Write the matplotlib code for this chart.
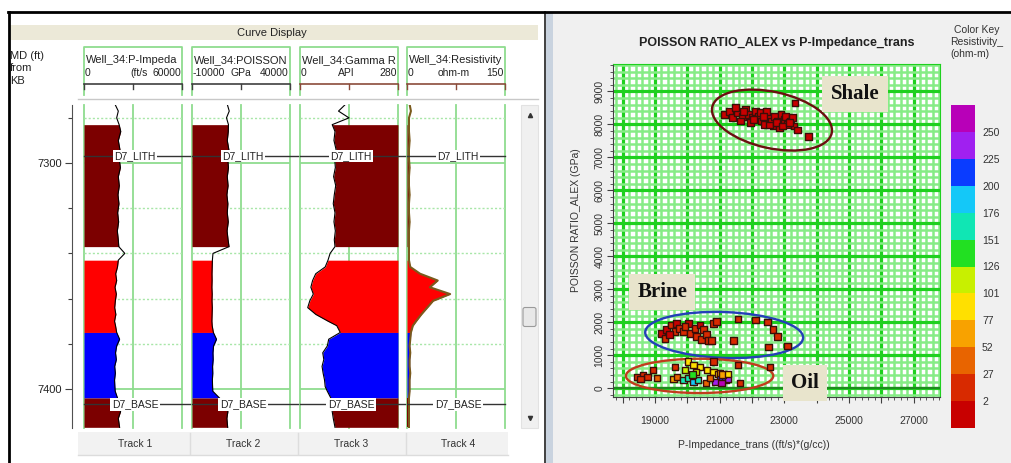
import numpy as np
import matplotlib
matplotlib.use("Agg")
import matplotlib.pyplot as plt
from matplotlib.patches import Rectangle, Ellipse, FancyBboxPatch
from matplotlib.colors import ListedColormap, BoundaryNorm
from matplotlib.cm import ScalarMappable
from matplotlib.ticker import MultipleLocator, FixedLocator, FuncFormatter
from matplotlib.transforms import blended_transform_factory

plt.rcParams['font.family'] = ['Liberation Sans', 'DejaVu Sans']

W, H = 1011, 463

# ---------------- well log curves ----------------
depth_ft = [7274, 7277, 7280, 7283, 7286, 7290, 7294, 7298, 7302, 7306,
            7310, 7314, 7318, 7322, 7326, 7330, 7334, 7337, 7340, 7343,
            7346, 7349, 7352, 7355, 7358, 7361, 7364, 7367, 7370, 7372,
            7375, 7378, 7381, 7384, 7387, 7390, 7393, 7396, 7399, 7401,
            7404, 7407, 7410, 7413, 7417]

p_impedance = [19000, 21000, 20000, 21500, 22500, 21000, 22000, 21500, 22300, 21000,
               21600, 20800, 21400, 20600, 21200, 20400, 21000, 21300, 25000, 21000,
               20500, 19400, 20000, 19000, 19800, 19200, 18800, 19500, 18700, 19300,
               20000, 21800, 20000, 19300, 19800, 18800, 19200, 18700, 18900, 19100,
               20500, 21800, 22400, 21000, 21800]

poisson = [8000, 9000, 7600, 8600, 8500, 8000, 8800, 8200, 8600, 8000,
           8400, 7800, 8300, 8000, 8500, 7900, 8400, 8900, 700, 400,
           300, 200, 250, 150, 300, 200, 350, 250, 150, 300,
           900, 2500, 1000, 700, 800, 500, 600, 400, 500, 600,
           4000, 7500, 8300, 7800, 8200]

gamma_ray = [130, 110, 140, 92, 100, 97, 103, 99, 101, 96,
             102, 98, 95, 100, 97, 101, 98, 100, 86, 80,
             72, 45, 36, 31, 38, 28, 22, 45, 80, 105,
             115, 82, 78, 65, 68, 63, 66, 70, 72, 78,
             88, 90, 92, 95, 100]

resistivity = [4, 6, 3, 3, 3, 4, 3, 3, 4, 3,
               3, 4, 3, 3, 4, 3, 3, 3, 3, 3,
               5, 20, 47, 35, 66, 40, 31, 22, 14, 9,
               6, 5, 4, 5, 4, 4, 5, 4, 4, 4,
               3, 3, 3, 3, 3]

track_titles = ["Well_34:P-Impeda", "Well_34:POISSON", "Well_34:Gamma R", "Well_34:Resistivity"]
track_units = ["(ft/s", "GPa", "API", "ohm-m"]
track_min = [0, -10000, 0, 0]
track_max = [60000, 40000, 280, 150]
track_names = ["Track 1", "Track 2", "Track 3", "Track 4"]

zone_tops = [7283, 7343, 7375, 7404]
zone_bases = [7337, 7375, 7404, 7417]
zone_colors = ['#7c0000', '#ff0000', '#0000ff', '#7c0000']

marker_names = ["D7_LITH", "D7_BASE"]
marker_depths = [7296.9, 7406.8]

# ---------------- crossplot ----------------
shale_x = [21150, 21300, 21400, 21550, 21500, 21700, 21800, 21650, 21900, 22000,
           22100, 21950, 22200, 22300, 22250, 22400, 22500, 22450, 22600, 22700,
           22650, 22800, 22900, 22850, 23000, 23100, 23050, 23200, 23300, 23250,
           21750, 22050, 22350, 22550, 22750, 22950, 23150, 23330, 23400, 23740]
shale_y = [8300, 8400, 8200, 8350, 8500, 8250, 8450, 8100, 8300, 8200,
           8400, 8050, 8250, 8100, 8350, 8000, 8200, 8400, 8100, 8250,
           7950, 8100, 8300, 7900, 8150, 8000, 8250, 8100, 7950, 8200,
           8380, 8150, 8250, 7980, 8050, 7950, 8050, 8650, 7830, 7620]
shale_res = [1] * len(shale_x)

brine_x = [19210, 19310, 19360, 19520, 19620, 19670, 19770, 19880, 20030, 20080,
           20240, 20290, 20390, 20500, 20450, 20600, 20650, 20800, 20910, 20760,
           19460, 19930, 21570, 22100, 22470, 22650, 22780, 21420, 22500, 23090]
brine_y = [1670, 1520, 1770, 1920, 1720, 1970, 1820, 1720, 1970, 1670,
           1820, 1560, 1920, 1770, 1490, 1620, 1460, 1970, 2020, 1440,
           1620, 1870, 2100, 2070, 2010, 1770, 1560, 1460, 1250, 1280]
brine_res = [1, 10, 1, 12, 8, 1, 15, 10, 1, 8, 12, 10, 1, 14, 8,
             10, 12, 5, 8, 10, 1, 9, 10, 12, 8, 6, 10, 12, 8, 10]

oil_x = [18470, 18630, 18780, 18940, 19060, 18540,
         19620, 20800, 21570, 21630, 22560,
         19560, 19680,
         20020, 20180, 20390, 20610, 20800, 20950, 20270, 19930,
         19870, 20020, 20180, 20330, 20150,
         21010, 21170, 21260, 20860, 21070,
         21010, 21100, 20580, 20700, 21260]
oil_y = [340, 400, 340, 555, 310, 280,
         645, 800, 705, 160, 645,
         280, 340,
         800, 705, 645, 555, 495, 435, 495, 555,
         250, 310, 190, 250, 405,
         310, 250, 280, 190, 160,
         465, 405, 160, 310, 435]
oil_res = [10, 8, 12, 6, 35, 10,
           8, 5, 6, 10, 8,
           60, 45,
           90, 95, 88, 92, 85, 98, 105, 110,
           160, 165, 185, 155, 140,
           210, 215, 235, 245, 260,
           70, 55, 45, 35, 80]

res_bounds = [-23, 2, 27, 52, 77, 101, 126, 151, 176, 200, 225, 250, 275]
res_ticks = [2, 27, 52, 77, 101, 126, 151, 176, 200, 225, 250]
res_colors = ['#c80000', '#d82a00', '#e86400', '#f8a200', '#ffe000', '#c8f000',
              '#22e022', '#10e6b4', '#14c8f8', '#0a3cff', '#a020f0', '#b800b8']

group_names = ['Shale', 'Brine', 'Oil']
ellipse_cx = [22620, 21140, 20380]
ellipse_cy = [8130, 1615, 375]
ellipse_w = [3780, 4890, 4560]
ellipse_h = [1710, 1390, 1040]
ellipse_angle = [-12, -2, 0]
ellipse_colors = ['#6b1010', '#2440b8', '#c03c1c']
label_x = [25190, 19220, 23640]
label_y = [8920, 2920, 160]


def box(x0, y0, x1, y1):
    return [x0 / W, 1 - y1 / H, (x1 - x0) / W, (y1 - y0) / H]


fig = plt.figure(figsize=(W / 100, H / 100), dpi=100)
fig.patch.set_facecolor('white')

# window chrome drawn in pixel space
bg = fig.add_axes([0, 0, 1, 1])
bg.set_xlim(0, W)
bg.set_ylim(H, 0)
bg.axis('off')

bg.add_patch(Rectangle((553, 13), W - 553, H - 13, fc='#f0f0f0', ec='none'))
bg.add_patch(Rectangle((546, 13), 7, H - 13, fc='#c9d3df', ec='none'))
bg.plot([544.5, 544.5], [12, H], color='#202020', lw=1.2)
bg.plot([8, W], [12, 12], color='black', lw=2)
bg.plot([8.5, 8.5], [12, H], color='black', lw=2)

bg.add_patch(Rectangle((10, 25), 528, 15, fc='#ece9d8', ec='none'))
bg.text(272, 32.5, "Curve Display", ha='center', va='center', fontsize=8, color='#222222')
bg.text(10, 51, "MD (ft)\nfrom\nKB", ha='left', va='top', fontsize=8, color='#222222',
        linespacing=1.3)
bg.plot([78, 538], [99, 99], color='#c8c8c8', lw=1)

# bottom tab strip
bg.add_patch(Rectangle((78, 432), 430, 23, fc='#f2f2f2', ec='none'))
bg.plot([78, 508], [455, 455], color='#dcdcdc', lw=1)

# scrollbar
bg.add_patch(Rectangle((521, 105), 17, 323, fc='#f0f0f0', ec='#e2e2e2', lw=0.8))
bg.add_patch(FancyBboxPatch((523.5, 308), 12, 18, boxstyle='round,pad=0.5,rounding_size=2',
                            fc='#e8e8e8', ec='#9a9a9a', lw=0.8))
bg.plot([529.5], [115], marker='^', ms=3, color='#333333')
bg.plot([529.5], [418], marker='v', ms=3, color='#333333')

grid_green = '#8fdc8f'
grid_green_light = '#a8e6a8'
track_left = [84, 192, 300, 407]
track_w = 98
gap = 10
log_top, log_bot = 105, 428
depth_top, depth_base = 7274.3, 7417.3
depth = np.array(depth_ft, float)
curves = [p_impedance, poisson, gamma_ray, resistivity]
curve_colors = ['black', 'black', 'black', '#7a5a1c']
curve_widths = [0.8, 0.8, 0.8, 1.5]
scale_colors = ['#404040', '#404040', '#8b4b3b', '#8b4b3b']
unit_dx = [6, 0, -3, -2]
fill_from_right = [False, False, True, False]


def fmt_scale(v):
    return f"{v:g}" if abs(v) < 1e5 else str(int(v))


# depth scale
ax_d = fig.add_axes(box(72, log_top, 73, log_bot))
ax_d.set_facecolor('none')
ax_d.set_ylim(depth_base, depth_top)
ax_d.set_xticks([])
for s in ['top', 'right', 'bottom']:
    ax_d.spines[s].set_visible(False)
ax_d.spines['left'].set_color('#505050')
ax_d.yaxis.set_major_locator(FixedLocator([7300, 7400]))
ax_d.yaxis.set_minor_locator(MultipleLocator(20))
ax_d.tick_params(axis='y', which='major', length=5, width=0.8, color='#404040',
                 labelsize=8, labelcolor='#222222', pad=2)
ax_d.tick_params(axis='y', which='minor', length=3, width=0.8, color='#404040')

for i, vals in enumerate(curves):
    l = track_left[i]
    r = l + track_w
    lo, hi = track_min[i], track_max[i]
    ax = fig.add_axes(box(l, log_top, r, log_bot))
    ax.set_xlim(lo, hi)
    ax.set_ylim(depth_base, depth_top)
    ax.set_xticks([])
    ax.set_yticks([])
    for s in ax.spines.values():
        s.set_visible(False)

    for v in (lo, (lo + hi) / 2, hi):
        ax.axvline(v, color=grid_green, lw=1.3, zorder=1, clip_on=False)
    for d in (7300, 7400):
        ax.axhline(d, color=grid_green, lw=1.3, zorder=1)
    for d in (7280, 7320, 7340, 7360, 7380):
        ax.axhline(d, color=grid_green_light, lw=1.0, ls=(0, (1.5, 1.5)), zorder=1)

    v = np.array(vals, float)
    for top, base, c in zip(zone_tops, zone_bases, zone_colors):
        m = (depth >= top) & (depth <= base)
        if fill_from_right[i]:
            ax.fill_betweenx(depth, v, hi, where=m, color=c, lw=0, zorder=2)
        else:
            ax.fill_betweenx(depth, lo, v, where=m, color=c, lw=0, zorder=2)
    ax.plot(v, depth, color=curve_colors[i], lw=curve_widths[i], zorder=3)

    tr = blended_transform_factory(ax.transAxes, ax.transData)
    x_end = 1 + gap / track_w if i < 3 else 1
    for name, md in zip(marker_names, marker_depths):
        ax.plot([0, x_end], [md, md], transform=tr, color='#333333', lw=1,
                zorder=5, clip_on=False)
        ax.text(0.52, md, name, transform=tr, ha='center', va='center', fontsize=7.5,
                color='#222222', zorder=6,
                bbox=dict(fc='white', ec='none', pad=1))

    # track header
    bg.plot([l, l, r, r], [95, 47, 47, 95], color=grid_green, lw=1.3)
    bg.text(l + 2, 60, track_titles[i], ha='left', va='center', fontsize=8, color='#222222')
    bg.text(l + 1, 73, fmt_scale(lo), ha='left', va='center', fontsize=7.5, color='#222222')
    bg.text(l + track_w / 2 + unit_dx[i], 73, track_units[i], ha='center', va='center',
            fontsize=7.5, color='#222222')
    bg.text(r - 1, 73, fmt_scale(hi), ha='right', va='center', fontsize=7.5, color='#222222')
    bg.plot([l, r], [84, 84], color=scale_colors[i], lw=1.2)
    for xt in (l, l + track_w / 2, r):
        bg.plot([xt, xt], [84, 89], color=scale_colors[i], lw=1)

    bg.text(l + track_w / 2 + 2, 444, track_names[i], ha='center', va='center',
            fontsize=7.5, color='#333333')
    if i < 3:
        bg.plot([r + gap / 2 + 3, r + gap / 2 + 3], [433, 454], color='#dddddd', lw=1)

# ---------------- crossplot panel ----------------
cmap = ListedColormap(res_colors)
norm = BoundaryNorm(res_bounds, cmap.N)

ax = fig.add_axes(box(613, 64, 940, 397))
ax.set_facecolor('white')
ax.set_xlim(17700, 27820)
ax.set_ylim(-265, 9830)
ax.xaxis.set_major_locator(MultipleLocator(1000))
ax.xaxis.set_minor_locator(MultipleLocator(200))
ax.yaxis.set_major_locator(MultipleLocator(1000))
ax.yaxis.set_minor_locator(MultipleLocator(200))
ax.xaxis.set_major_formatter(FuncFormatter(
    lambda v, p: f"{int(round(v))}" if int(round(v)) % 2000 == 1000 else ""))
ax.yaxis.set_major_formatter(FuncFormatter(lambda v, p: f"{int(round(v))}"))
ax.set_axisbelow(True)
ax.grid(which='minor', color='#86ec86', lw=1.8)
ax.grid(which='major', color='#1fd01f', lw=2.3)
ax.axhline(0, color='#208a20', lw=1.6, zorder=1.5)

for s in ['top', 'right']:
    ax.spines[s].set_color('#1fd01f')
for s in ['left', 'bottom']:
    ax.spines[s].set_color('#404040')
ax.tick_params(which='major', direction='out', length=4, width=0.8, color='#404040',
               labelsize=7.5, labelcolor='#333333', pad=2)
ax.tick_params(which='minor', direction='out', length=2, width=0.6, color='#404040')
ax.tick_params(axis='x', which='major', pad=10)
plt.setp(ax.get_yticklabels(), rotation=90, va='center')

for gx, gy, gr in [(shale_x, shale_y, shale_res), (brine_x, brine_y, brine_res),
                   (oil_x, oil_y, oil_res)]:
    ax.scatter(gx, gy, c=gr, cmap=cmap, norm=norm, marker='s', s=24,
               edgecolors='#3a0e08', linewidths=1.0, zorder=4)

for k in range(len(group_names)):
    ax.add_patch(Ellipse((ellipse_cx[k], ellipse_cy[k]), ellipse_w[k], ellipse_h[k],
                         angle=ellipse_angle[k], fill=False, ec=ellipse_colors[k],
                         lw=1.7, zorder=3))
    ax.text(label_x[k], label_y[k], group_names[k], family='Liberation Serif',
            fontweight='bold', fontsize=15, color='#111111', ha='center', va='center',
            zorder=6, bbox=dict(boxstyle='square,pad=0.4', fc='#e8e4cc', ec='none'))

ax.set_title("POISSON RATIO_ALEX vs P-Impedance_trans", fontsize=9, fontweight='bold',
             color='#222222', pad=13)
ax.set_xlabel("P-Impedance_trans ((ft/s)*(g/cc))", fontsize=7.5, color='#333333')
ax.xaxis.set_label_coords(0.43, -0.128)
ax.set_ylabel("POISSON RATIO_ALEX (GPa)", fontsize=7.5, color='#333333')
ax.yaxis.set_label_coords(-0.098, 0.53)

# colour key
cax = fig.add_axes(box(951, 105, 975, 428))
cb = fig.colorbar(ScalarMappable(norm=norm, cmap=cmap), cax=cax, ticks=res_ticks)
cb.outline.set_visible(False)
cb.ax.minorticks_off()
cb.ax.tick_params(which='both', length=0, labelsize=7.5, labelcolor='#333333', pad=5)
bg.text(977, 30, "Color Key", ha='center', va='center', fontsize=7.5, color='#333333')
bg.text(950, 42, "Resistivity_", ha='left', va='center', fontsize=7.5, color='#333333')
bg.text(950, 54, "(ohm-m)", ha='left', va='center', fontsize=7.5, color='#333333')

fig.savefig("out.png", dpi=100)
